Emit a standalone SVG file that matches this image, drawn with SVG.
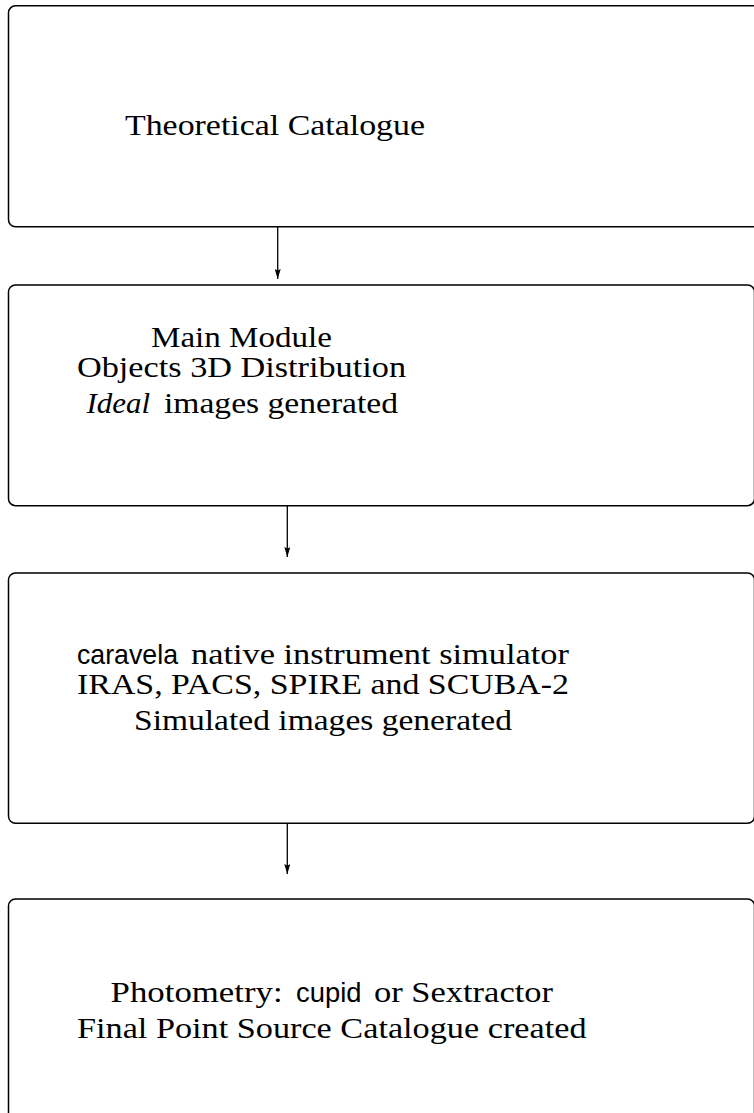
<svg xmlns="http://www.w3.org/2000/svg" width="754" height="1113" viewBox="0 0 754 1113">
<style>
.box{fill:#fff;stroke:#000;stroke-width:1.5}
.t{font-family:"Liberation Serif","Times New Roman",serif;font-size:30px;fill:#000}
.it{font-style:italic}
.s{font-family:"Liberation Sans",Arial,sans-serif;font-size:28px;fill:#000}
.c{stroke:#000;stroke-width:1.3;fill:none}
</style>
<defs>
<marker id="ah" markerWidth="10" markerHeight="6" refX="10" refY="3" orient="auto" markerUnits="userSpaceOnUse" viewBox="0 0 10 6">
<path d="M0,0 L10,3 L0,6 L1.5,3 Z" fill="#000"/>
</marker>
</defs>
<rect width="754" height="1113" fill="#fff"/>
<g id="node1">
<rect class="box" x="8.5" y="5.8" width="760" height="221" rx="7"/>
<text class="t" x="125" y="135" textLength="300" lengthAdjust="spacingAndGlyphs">Theoretical Catalogue</text>
</g>
<g id="node2">
<rect class="box" x="8.5" y="285" width="746" height="220.7" rx="7"/>
<text class="t" x="151" y="347" textLength="181" lengthAdjust="spacingAndGlyphs">Main Module</text>
<text class="t" x="77" y="377" textLength="329" lengthAdjust="spacingAndGlyphs">Objects 3D Distribution</text>
<text class="t it" x="86.5" y="413" textLength="63.5" lengthAdjust="spacingAndGlyphs">Ideal</text>
<text class="t" x="164" y="413" textLength="234" lengthAdjust="spacingAndGlyphs">images generated</text>
</g>
<g id="node3">
<rect class="box" x="8.5" y="573" width="746" height="250.3" rx="7"/>
<text class="s" x="77" y="664" textLength="101" lengthAdjust="spacingAndGlyphs">caravela</text>
<text class="t" x="191" y="664" textLength="378" lengthAdjust="spacingAndGlyphs">native instrument simulator</text>
<text class="t" x="77" y="694" textLength="492" lengthAdjust="spacingAndGlyphs">IRAS, PACS, SPIRE and SCUBA-2</text>
<text class="t" x="134" y="730" textLength="378" lengthAdjust="spacingAndGlyphs">Simulated images generated</text>
</g>
<g id="node4">
<rect class="box" x="8.5" y="899" width="746" height="260" rx="7"/>
<text class="t" x="110.6" y="1002" textLength="172" lengthAdjust="spacingAndGlyphs">Photometry:</text>
<text class="s" x="296" y="1002" textLength="65.5" lengthAdjust="spacingAndGlyphs">cupid</text>
<text class="t" x="374" y="1002" textLength="179" lengthAdjust="spacingAndGlyphs">or Sextractor</text>
<text class="t" x="77" y="1038" textLength="509.5" lengthAdjust="spacingAndGlyphs">Final Point Source Catalogue created</text>
</g>
<g id="connectors">
<line class="c" x1="277.7" y1="226.8" x2="277.7" y2="279" marker-end="url(#ah)"/>
<line class="c" x1="287.3" y1="505.7" x2="287.3" y2="557" marker-end="url(#ah)"/>
<line class="c" x1="287.3" y1="823.3" x2="287.3" y2="874" marker-end="url(#ah)"/>
</g>
</svg>
